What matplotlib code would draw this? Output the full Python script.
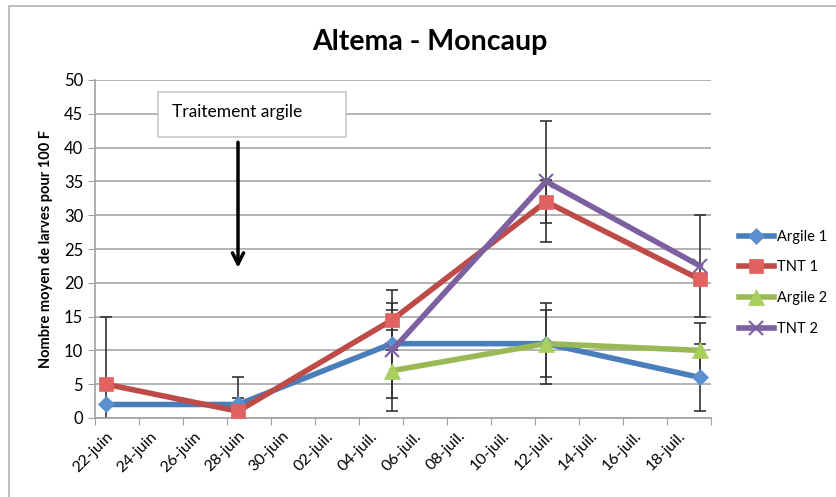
import numpy as np
import pandas as pd
import matplotlib
matplotlib.use("Agg")
import matplotlib.pyplot as plt
import matplotlib.dates as mdates
from matplotlib.patches import Rectangle

plt.rcParams['font.family'] = ['Lato', 'DejaVu Sans']

dates = pd.to_datetime(["2012-06-22", "2012-06-28", "2012-07-05", "2012-07-12", "2012-07-19"])

argile1 = [2, 2, 11, 11, 6]
argile1_err = [0, 1, 5, 6, 5]
tnt1 = [5, 1, 14.5, 32, 20.5]
tnt1_err = [10, 5, 4.5, 3.2, 0]
argile2 = [np.nan, np.nan, 7, 11, 10]
argile2_err = [0, 0, 6, 5, 4]
tnt2 = [np.nan, np.nan, 10, 35, 22.5]
tnt2_err = [0, 0, 7, 9, 7.5]

tick_labels = ["22-juin", "24-juin", "26-juin", "28-juin", "30-juin", "02-juil.", "04-juil.",
               "06-juil.", "08-juil.", "10-juil.", "12-juil.", "14-juil.", "16-juil.", "18-juil."]

# Excel date axis: each day is a slot, points sit in the middle of the slot
x = mdates.date2num(dates) + 0.5
start = mdates.date2num(pd.Timestamp("2012-06-22"))
label_pos = start + 0.5 + 2 * np.arange(len(tick_labels))
major_ticks = start + 2 * np.arange(len(tick_labels) + 1)

fig = plt.figure(figsize=(8.37, 4.97), dpi=100)
ax = fig.add_axes([95 / 837, 1 - 418 / 497, (711 - 95) / 837, (418 - 80) / 497])

fig.patches.append(Rectangle((9 / 837, -0.1), 1.2, 1 - 6 / 497 + 0.1, transform=fig.transFigure,
                             fill=False, edgecolor="#b0b0b0", linewidth=1.2))

series = [
    ("Argile 1", argile1, argile1_err, "#4a7ebb", "D", "#5b8fd0", 8),
    ("TNT 1", tnt1, tnt1_err, "#be4b48", "s", "#e06260", 10),
    ("Argile 2", argile2, argile2_err, "#98b954", "^", "#a9cf5c", 11),
    ("TNT 2", tnt2, tnt2_err, "#7d60a0", "x", "#7d60a0", 10),
]

for name, vals, err, col, mk, fc, ms in series:
    vals = np.array(vals, dtype=float)
    err = np.array(err, dtype=float)
    ax.errorbar(x, vals, yerr=np.where(err > 0, err, np.nan), fmt="none", ecolor="#333333",
                elinewidth=1.2, capsize=4, capthick=1.2, zorder=2)
    ax.plot(x, vals, color=col, linewidth=4, marker=mk, markersize=ms, markerfacecolor=fc,
            markeredgecolor=col if mk == "x" else fc, markeredgewidth=1.5 if mk == "x" else 0.5,
            label=name, zorder=3)

ax.set_xlim(start, start + 28)
ax.set_ylim(0, 50)
ax.set_yticks(np.arange(0, 51, 5))
ax.set_xticks(major_ticks)
ax.set_xticklabels([])
ax.set_xticks(label_pos, minor=True)
ax.set_xticklabels(tick_labels, minor=True, rotation=45, ha="right", rotation_mode="anchor")
ax.tick_params(axis="x", which="minor", length=0, labelsize=11.5, pad=8)
ax.tick_params(axis="x", which="major", length=5, color="#a0a0a0")
ax.tick_params(axis="y", length=5, color="#a0a0a0", labelsize=12)
ax.grid(axis="y", color="#a6a6a6", linewidth=1.2)
ax.set_axisbelow(True)
for s in ["top", "right"]:
    ax.spines[s].set_visible(False)
for s in ["left", "bottom"]:
    ax.spines[s].set_color("#a0a0a0")
    ax.spines[s].set_linewidth(1.2)

ax.set_ylabel("Nombre moyen de larves pour 100 F", fontsize=10.5, fontweight="bold", labelpad=8)
fig.text(430 / 837, 1 - 42 / 497, "Altema - Moncaup", fontsize=20.5, fontweight="bold",
         ha="center", va="center")

# annotation box and arrow
ax.add_patch(Rectangle((start + 2.86, 41.6), 8.55, 6.6, facecolor="white", edgecolor="#c8c8c8",
                       linewidth=1.2, zorder=4))
ax.text(start + 3.5, 45.3, "Traitement argile", fontsize=12.5, va="center", ha="left", zorder=5)
ax.annotate("", xy=(start + 6.5, 21.8), xytext=(start + 6.5, 41.2),
            arrowprops=dict(arrowstyle="->,head_length=0.8,head_width=0.4", color="black", lw=2.5))

ax.legend(loc="center left", bbox_to_anchor=(1.045, 0.40), frameon=False, fontsize=10.5,
          handlelength=2.4, handletextpad=0.25, labelspacing=1.15, borderaxespad=0, borderpad=0)

fig.savefig("out.png", dpi=100)
